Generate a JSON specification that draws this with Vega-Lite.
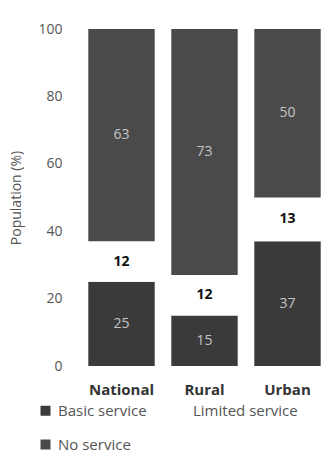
{
  "$schema": "https://vega.github.io/schema/vega-lite/v6.json",
  "autosize": {"type": "none"},
  "padding": {"left": 80, "top": 29, "right": 2, "bottom": 84},
  "width": 249,
  "height": 337,
  "background": "white",
  "config": {"font": "Open Sans", "view": {"stroke": null}},
  "data": {"values": [
    {"area": "National", "service": "Basic service", "value": 25, "ord": 1},
    {"area": "National", "service": "Limited service", "value": 12, "ord": 2},
    {"area": "National", "service": "No service", "value": 63, "ord": 3},
    {"area": "Rural", "service": "Basic service", "value": 15, "ord": 1},
    {"area": "Rural", "service": "Limited service", "value": 12, "ord": 2},
    {"area": "Rural", "service": "No service", "value": 73, "ord": 3},
    {"area": "Urban", "service": "Basic service", "value": 37, "ord": 1},
    {"area": "Urban", "service": "Limited service", "value": 13, "ord": 2},
    {"area": "Urban", "service": "No service", "value": 50, "ord": 3}
  ]},
  "transform": [
    {"stack": "value", "groupby": ["area"], "sort": [{"field": "ord", "order": "ascending"}], "as": ["y0", "y1"]},
    {"calculate": "(datum.y0 + datum.y1) / 2", "as": "ymid"}
  ],
  "encoding": {
    "x": {"field": "area", "type": "nominal", "sort": ["National", "Rural", "Urban"],
      "scale": {"paddingInner": 0.2, "paddingOuter": 0.1},
      "axis": {"title": null, "labelAngle": 0, "domain": false, "ticks": false, "labelFontWeight": "bold", "labelFontSize": 15, "labelColor": "#333", "labelPadding": 16}}
  },
  "layer": [
    {
      "mark": {"type": "bar"},
      "encoding": {
        "y": {"field": "y0", "type": "quantitative",
          "scale": {"domain": [0, 100]},
          "axis": {"title": "Population (%)", "titleFontSize": 14, "titleFontWeight": "normal", "titleColor": "#555", "titlePadding": 14,
            "values": [0, 20, 40, 60, 80, 100], "grid": false, "domain": false, "ticks": false, "labelFontSize": 14, "labelColor": "#555", "labelPadding": 18}},
        "y2": {"field": "y1"},
        "color": {"field": "service", "type": "nominal",
          "scale": {"domain": ["Basic service", "Limited service", "No service"], "range": ["#3a3a3a", "#ffffff", "#4a4a4a"]},
          "legend": {"title": null, "orient": "none", "legendX": -42, "legendY": 374, "direction": "horizontal", "columns": 2,
            "symbolType": "square", "symbolSize": 100, "symbolStrokeWidth": 0, "labelFontSize": 15, "labelColor": "#555",
            "columnPadding": 26, "rowPadding": 18, "labelOffset": 5}}
      }
    },
    {
      "transform": [{"filter": "datum.service !== 'Limited service'"}],
      "mark": {"type": "text", "fontSize": 14, "color": "#c4c4c4"},
      "encoding": {
        "y": {"field": "ymid", "type": "quantitative"},
        "text": {"field": "value", "type": "quantitative"}
      }
    },
    {
      "transform": [{"filter": "datum.service === 'Limited service'"}],
      "mark": {"type": "text", "fontSize": 14, "fontWeight": "bold", "color": "#111"},
      "encoding": {
        "y": {"field": "ymid", "type": "quantitative"},
        "text": {"field": "value", "type": "quantitative"}
      }
    }
  ]
}
